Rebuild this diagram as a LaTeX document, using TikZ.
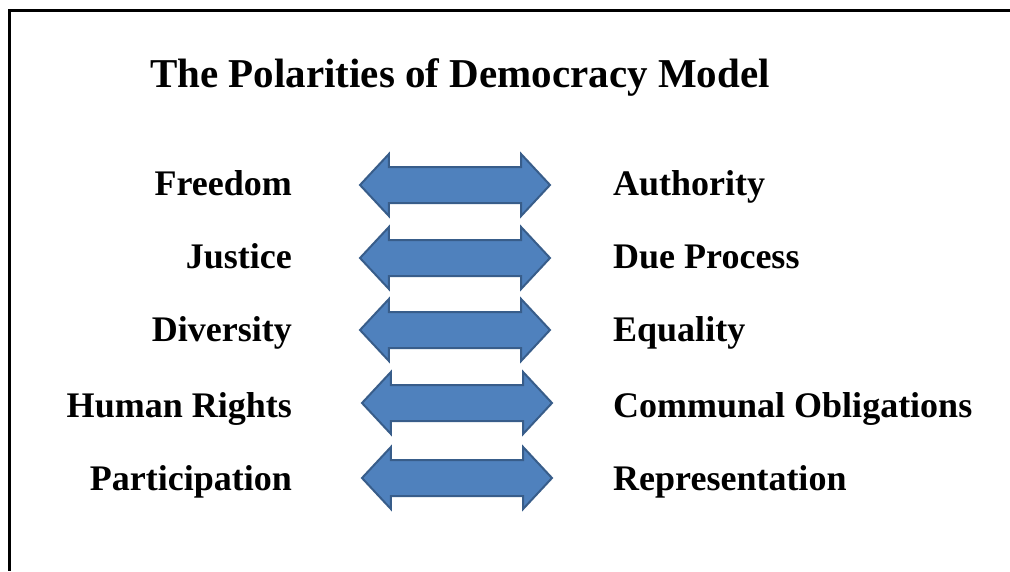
\documentclass[tikz,border=0pt]{standalone}
\usepackage{fontspec}
\setmainfont{Liberation Serif}
\usetikzlibrary{shapes.arrows}

\definecolor{arrowfill}{HTML}{4F81BD}
\definecolor{arrowline}{HTML}{385D8A}

\tikzset{
  pole/.style={font=\fontsize{36}{40}\selectfont\bfseries, inner sep=0pt},
  leftpole/.style={pole, anchor=base east},
  rightpole/.style={pole, anchor=base west},
  polearrow/.style={double arrow, draw=arrowline, fill=arrowfill, line width=2pt,
    minimum height=190pt, inner xsep=0pt, inner ysep=17pt,
    double arrow head extend=13pt, double arrow tip angle=94}
}

\begin{document}
\begin{tikzpicture}[x=1pt,y=-1pt]
			\useasboundingbox (0,0) rectangle (1010,571);
			
			% Frame (only top and left edges show)
			\draw[line width=3pt] (1010,10.5) -- (9,10.5) -- (9,571);
			
			% Title
			\node[anchor=base west, inner sep=0pt, font=\fontsize{41}{48}\selectfont\bfseries]
			(title) at (150,87) {The Polarities of Democracy Model};
			
			% Left poles
			\node[leftpole] (freedom) at (292,195) {Freedom};
			\node[leftpole] (justice) at (292,268) {Justice};
			\node[leftpole] (diversity) at (292,341) {Diversity};
			\node[leftpole] (rights) at (292,417) {Human Rights};
			\node[leftpole] (participation) at (292,490) {Participation};
			
			% Right poles
			\node[rightpole] (authority) at (613,195) {Authority};
			\node[rightpole] (process) at (613,268) {Due Process};
			\node[rightpole] (equality) at (613,341) {Equality};
			\node[rightpole] (obligations) at (613,417) {Communal Obligations};
			\node[rightpole] (representation) at (613,490) {Representation};
			
			% Double arrows between the poles
			\node[polearrow] (arr1) at (455,185) {};
			\node[polearrow] (arr2) at (455,258) {};
			\node[polearrow] (arr3) at (455,330) {};
			\node[polearrow] (arr4) at (457,403) {};
			\node[polearrow] (arr5) at (457,478) {};
			
		\end{tikzpicture}
\end{document}
